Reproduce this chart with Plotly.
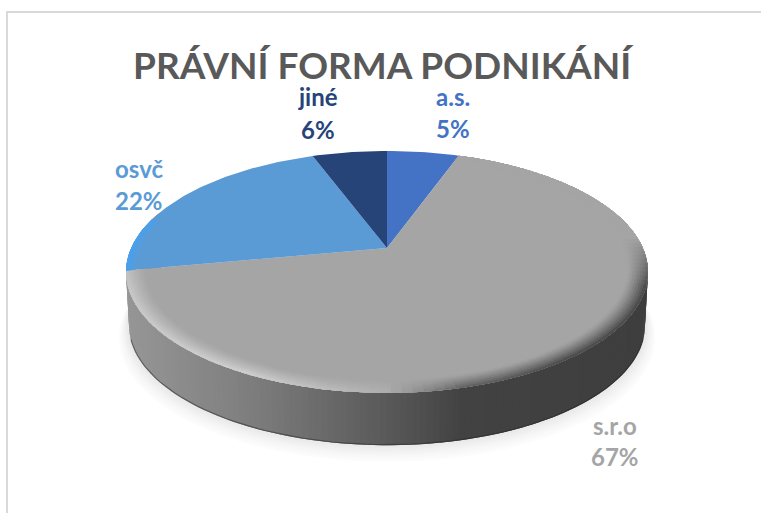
import numpy as np
import plotly.graph_objects as go

# values, clockwise starting at 12 o'clock
categories = ["a.s.", "s.r.o", "osvč", "jiné"]
shares = [5.4, 66.6, 22.4, 5.6]
percent_labels = ["5%", "67%", "22%", "6%"]
colors = ["#4472C4", "#A5A5A5", "#5B9BD5", "#264478"]

title_text = "PRÁVNÍ FORMA PODNIKÁNÍ"
label_pos = [(453, 96, 128), (615, 425, 456), (139, 168, 200), (318, 96, 129)]

W, H = 761, 513
CX, APEX_Y = 387, 248   # where the slices meet on screen
R, K, C = 255.8, 116.2, 0.198   # perspective of the disc
DEPTH = 54


def project(theta, r=1.0, dy=0.0, grow=0.0):
    # theta clockwise from 12 o'clock, disc tilted away from viewer
    u = r * np.sin(theta)
    v = r * np.cos(theta)
    d = 1 + C * v
    return CX + (R + grow) * u / d, APEX_Y - (K + grow * 0.45) * v / d + dy


def mix(c0, c1, t):
    return tuple(a + (b - a) * t for a, b in zip(c0, c1))


def css(rgb):
    return "rgb(%d,%d,%d)" % tuple(int(round(x)) for x in rgb)


def wall_gray(x):
    # side of the disc goes from mid grey on the left to almost black on the right
    stops_x = [126, 250, 387, 460, 648]
    stops_g = [150, 125, 88, 66, 62]
    return float(np.interp(x, stops_x, stops_g))


def rim_gray(theta):
    # bevel light: dark at the right, bright towards front-left
    stops_t = [np.pi * 0.45, np.pi * 0.8, np.pi * 0.92, np.pi, np.pi * 1.15, np.pi * 1.4, np.pi * 1.56]
    stops_g = [72, 72, 95, 175, 208, 200, 175]
    return float(np.interp(theta, stops_t, stops_g))


def rim_fade(theta):
    # no bevel on the far side of the disc
    return float(np.interp(theta, [np.pi * 0.47, np.pi * 0.6], [0, 1]))


fig = go.Figure()


def add_poly(xs, ys, color):
    # no outline: strips overlap instead, outlines show up as seams
    fig.add_trace(go.Scatter(x=xs, y=ys, mode="lines", fill="toself", fillcolor=color,
                             line=dict(width=0), hoverinfo="skip", showlegend=False))


# soft shadow below the disc
t = np.linspace(0, 2 * np.pi, 200)
for i, g in enumerate([252, 250, 248, 246, 243, 240, 237, 234]):
    x, y = project(t, dy=DEPTH + 11 - i * 1.4, grow=7 - i * 1.1)
    add_poly(x.tolist(), y.tolist(), css((g, g, g)))

# side wall, narrow strips so the grey can change along the front
# runs right to left; each strip reaches under the following one
edges = np.linspace(np.pi / 2 - 0.32, 3 * np.pi / 2 + 0.32, 181)
for a, b in zip(edges[:-1], edges[1:]):
    x0, y0 = project(a)
    x1, y1 = project(b + 0.02)
    xb0, yb0 = project(a, dy=DEPTH, grow=-3)
    xb1, yb1 = project(b + 0.02, dy=DEPTH, grow=-3)
    g = wall_gray((x0 + x1) / 2)
    add_poly([x0, x1, xb1, xb0, x0], [y0, y1, yb1, yb0, y0], css((g, g, g)))

# dark thin line at the very bottom of the wall
x, y = project(np.linspace(np.pi * 0.6, np.pi * 1.4, 80), dy=DEPTH - 0.5, grow=-3)
fig.add_trace(go.Scatter(x=x, y=y, mode="lines", line=dict(color="rgba(40,40,40,0.5)", width=1.2),
                         hoverinfo="skip", showlegend=False))

# top face slices from the shares
start = 0.0
slice_bounds = []
for share, color in zip(shares, colors):
    end = start + share / 100 * 2 * np.pi
    slice_bounds.append((start, end))
    tt = np.linspace(start, end, max(int(share * 3), 12))
    x, y = project(tt)
    add_poly([CX] + x.tolist() + [CX], [APEX_Y] + y.tolist() + [APEX_Y], color)
    start = end

# bevel at the edge of the s.r.o slice, blended from slice grey to rim grey
# rings go inside out, every ring is a closed band over the one before
s0, s1 = slice_bounds[1]
base = (165, 165, 165)
ring_r = np.linspace(0.925, 1.0, 9)
ring_t = np.linspace(s0, s1, 121)
for r0 in ring_r[:-1]:
    blend = ((r0 + 0.005 - 0.925) / 0.075) ** 1.2
    for a, b in zip(ring_t[:-1], ring_t[1:]):
        b2 = min(b + 0.015, s1)
        x0, y0 = project(a, r0)
        x1, y1 = project(b2, r0)
        x2, y2 = project(b2, 1.0)
        x3, y3 = project(a, 1.0)
        m = (a + b) / 2
        g = rim_gray(m)
        c = mix(base, (g, g, g), blend * rim_fade(m))
        add_poly([x0, x1, x2, x3, x0], [y0, y1, y2, y3, y0], css(c))

# same light on the outer end of the osvč slice, only where it meets the rim
o0, o1 = slice_bounds[2]
for r0, c in zip([0.965, 0.98, 0.99], [(85, 157, 222), (78, 158, 230), (72, 160, 238)]):
    tt = np.linspace(o0, o0 + 0.45, 30)
    xa, ya = project(tt, r0)
    xb, yb = project(tt[::-1], 1.0)
    add_poly(xa.tolist() + xb.tolist(), ya.tolist() + yb.tolist(), css(c))

# texts
annotations = [dict(x=383, y=80, text="<b>%s</b>" % title_text, showarrow=False, xref="x", yref="y",
                    yanchor="bottom", yshift=-9, font=dict(family="Lato", size=37, color="#595959"))]
for name, pct, color, (lx, ly0, ly1) in zip(categories, percent_labels, colors, label_pos):
    for txt, ly in ((name, ly0), (pct, ly1)):
        annotations.append(dict(x=lx, y=ly, text="<b>%s</b>" % txt, showarrow=False, xref="x", yref="y",
                                font=dict(family="Lato", size=24, color=color)))

# thin frame of the pasted chart, left and top sides only
frame = [
    dict(type="line", x0=7, x1=7, y0=12, y1=H, line=dict(color="#D9D9D9", width=2)),
    dict(type="line", x0=6, x1=W, y0=12, y1=12, line=dict(color="#D9D9D9", width=2)),
]

fig.update_layout(
    width=W, height=H,
    margin=dict(l=0, r=0, t=0, b=0),
    paper_bgcolor="white", plot_bgcolor="white",
    xaxis=dict(range=[0, W], visible=False, fixedrange=True),
    yaxis=dict(range=[H, 0], visible=False, fixedrange=True),
    showlegend=False,
    annotations=annotations,
    shapes=frame,
)

# the page's default body margin would push the figure 8px off
fig.write_html("out.html", config=dict(displayModeBar=False),
               post_script="document.body.style.margin='0';document.body.style.overflow='hidden';")
